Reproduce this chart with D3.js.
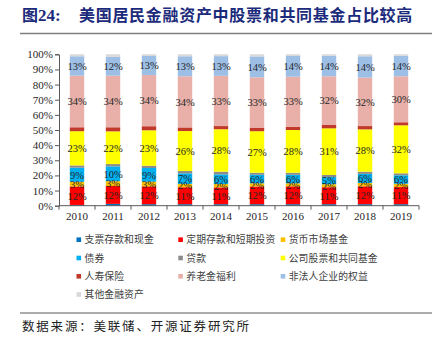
<!DOCTYPE html>
<html><head><meta charset="utf-8">
<script src="https://cdn.jsdelivr.net/npm/d3@7/dist/d3.min.js"></script>
<style>
html,body{margin:0;padding:0;background:#fff;}
svg{display:block;}
</style></head>
<body><svg id="c" width="437" height="344"></svg>
<script>
const years = ["2010","2011","2012","2013","2014","2015","2016","2017","2018","2019"];
const seriesNames = ["支票存款和现金","定期存款和短期投资","货币市场基金","债券","贷款","公司股票和共同基金","人寿保险","养老金福利","非法人企业的权益","其他金融资产"];
const cash      = [0.5, 1.2, 1.0, 1.0, 1.0, 1.0, 1.0, 1.0, 1.0, 1.0];
const timeDep   = [12.2,11.8,11.8,11.2,11.1,11.7,11.8,11.2,11.8,11.3];
const mmf       = [3.1, 3.2, 3.1, 2.2, 2.2, 2.1, 2.0, 2.0, 2.2, 2.2];
const bonds     = [9.3, 9.8, 9.0, 7.0, 6.4, 5.6, 5.6, 4.7, 6.0, 5.6];
const loans     = [1.5, 1.5, 1.5, 1.5, 1.8, 1.4, 1.4, 1.4, 1.5, 1.3];
const stocks    = [22.6,21.6,23.4,26.4,28.0,27.4,28.2,30.8,27.9,31.7];
const lifeIns   = [2.6, 2.7, 2.7, 2.4, 2.1, 2.4, 2.2, 2.2, 2.2, 2.0];
const pension   = [34.1,34.1,33.8,33.8,33.2,33.2,33.0,32.2,32.0,30.4];
const nonCorp   = [12.8,12.4,12.6,13.2,13.0,13.8,13.7,13.6,14.1,13.6];
const other     = [1.3, 1.7, 1.1, 1.3, 1.2, 1.4, 1.1, 0.9, 1.3, 0.9];
const yTicks = [0,10,20,30,40,50,60,70,80,90,100];
const labeled = [false,true,true,true,false,true,false,true,true,false];

const colors = ["#0070C0","#FF0000","#FFC000","#00B0F0","#8C8C8C","#FFFF00","#C0392B","#E8B0A8","#9DBFE6","#D9D9D9"];
const allSeries = [cash,timeDep,mmf,bonds,loans,stocks,lifeIns,pension,nonCorp,other];

const table = years.map((y,i)=>{
  const o = {year:y};
  seriesNames.forEach((n,k)=>o[n]=allSeries[k][i]);
  return o;
});
const stack = d3.stack().keys(seriesNames)(table);

const svg = d3.select("#c");
const x = d3.scaleBand().domain(years).range([59,419]).paddingInner(0.6).paddingOuter(0.3);
const y = d3.scaleLinear().domain([0,100]).range([205.7,54.3]);

// title
const title = svg.append("text").attr("y",21)
  .attr("fill","#1b2a7a").attr("font-weight","bold").attr("font-size",16);
title.append("tspan").attr("x",22).attr("font-family","'Noto Sans CJK SC'").text("图");
title.append("tspan").attr("font-family","'Liberation Serif'").attr("font-size",17).text("24:");
title.append("tspan").attr("x",79).attr("font-family","'Noto Sans CJK SC'").attr("letter-spacing",0.7)
  .text("美国居民金融资产中股票和共同基金占比较高");
svg.append("line").attr("x1",20).attr("x2",432).attr("y1",33.5).attr("y2",33.5)
  .attr("stroke","#7f7f7f").attr("stroke-width",1.5);

// bars
const g = svg.append("g");
stack.forEach((s,k)=>{
  g.selectAll(null).data(s).enter().append("rect")
    .attr("x",d=>x(d.data.year))
    .attr("width",x.bandwidth())
    .attr("y",d=>y(d[1]))
    .attr("height",d=>y(d[0])-y(d[1]))
    .attr("fill",colors[k]);
});
// labels
stack.forEach((s,k)=>{
  if(!labeled[k]) return;
  g.selectAll(null).data(s).enter().append("text")
    .attr("x",d=>x(d.data.year)+x.bandwidth()/2)
    .attr("y",d=>y((d[0]+d[1])/2)+3.8)
    .attr("text-anchor","middle")
    .attr("font-family","'Liberation Serif'").attr("font-size",10.5)
    .attr("fill","#262626")
    .text(d=>Math.round(d[1]-d[0])+"%");
});

// axes
const yAxis = d3.axisLeft(y).tickValues(yTicks).tickFormat(d=>d+"%").tickSize(4).tickPadding(2);
const ya = svg.append("g").attr("transform","translate(59,0)").call(yAxis);
ya.select(".domain").attr("stroke","#595959");
ya.selectAll(".tick line").attr("stroke","#595959");
ya.selectAll("text").attr("font-family","'Liberation Serif'").attr("font-size",11).attr("fill","#262626");

const xa = svg.append("g").attr("transform","translate(0,205.7)")
  .call(d3.axisBottom(x).tickSize(0).tickPadding(7));
xa.select(".domain").attr("stroke","#595959").attr("d","M59,0H419");
xa.selectAll("text").attr("font-family","'Liberation Serif'").attr("font-size",11).attr("fill","#262626");
xa.selectAll(null).data(d3.range(years.length+1)).enter().append("line")
  .attr("x1",i=>59+i*x.step()).attr("x2",i=>59+i*x.step()).attr("y1",0).attr("y2",4)
  .attr("stroke","#595959");

// legend
const legX = [76.5,178.3,280.7], legY = [239.7,258,276.3,294.5];
seriesNames.forEach((n,k)=>{
  const lx = legX[k%3], ly = legY[Math.floor(k/3)];
  svg.append("rect").attr("x",lx).attr("y",ly-2.3).attr("width",4.6).attr("height",4.6).attr("fill",colors[k]);
  svg.append("text").attr("x",lx+8).attr("y",ly+3.6)
    .attr("font-family","'Noto Sans CJK SC'").attr("font-size",9.8).attr("letter-spacing",0.1)
    .attr("fill","#404040").text(n);
});

svg.append("line").attr("x1",20).attr("x2",432).attr("y1",313).attr("y2",313)
  .attr("stroke","#595959").attr("stroke-width",1);
svg.append("text").attr("x",22).attr("y",331)
  .attr("font-family","'Noto Sans CJK SC'").attr("font-size",12.5).attr("letter-spacing",1.8)
  .attr("fill","#222").text("数据来源：美联储、开源证券研究所");
</script></body></html>
